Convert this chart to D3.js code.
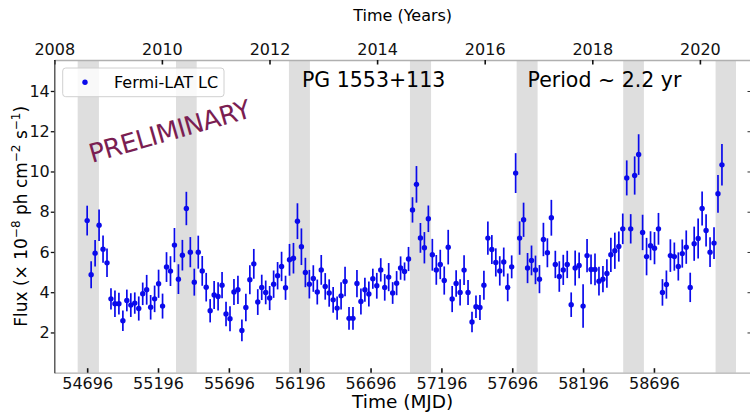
<!DOCTYPE html>
<html>
<head>
<meta charset="utf-8">
<script src="https://cdn.jsdelivr.net/npm/d3@7"></script>
<style>
  body { margin: 0; background: #fff; }
  svg { display: block; font-family: 'DejaVu Sans', sans-serif; }
</style>
</head>
<body>
<svg id="chart" width="750" height="416"></svg>
<script>
// light curve, 28 day bins
const mjd = [
  54696, 54724, 54752, 54780, 54808, 54836, 54864, 54892, 54920, 54948,
  54976, 55004, 55032, 55060, 55088, 55116, 55144, 55172, 55200, 55228,
  55256, 55284, 55312, 55340, 55368, 55396, 55424, 55452, 55480, 55508,
  55536, 55564, 55592, 55620, 55648, 55676, 55704, 55732, 55760, 55788,
  55816, 55844, 55872, 55900, 55928, 55956, 55984, 56012, 56040, 56068,
  56096, 56124, 56152, 56180, 56208, 56236, 56264, 56292, 56320, 56348,
  56376, 56404, 56432, 56460, 56488, 56516, 56544, 56572, 56600, 56628,
  56656, 56684, 56712, 56740, 56768, 56796, 56824, 56852, 56880, 56908,
  56936, 56964, 56992, 57020, 57048, 57076, 57104, 57132, 57160, 57188,
  57216, 57244, 57272, 57300, 57328, 57356, 57384, 57412, 57440, 57468,
  57496, 57524, 57552, 57580, 57608, 57636, 57664, 57692, 57720, 57748,
  57776, 57804, 57832, 57860, 57888, 57916, 57944, 57972, 58000, 58028,
  58056, 58084, 58112, 58140, 58168, 58196, 58224, 58252, 58280, 58308,
  58336, 58364, 58392, 58420, 58448, 58476, 58504, 58532, 58560, 58588,
  58616, 58644, 58672, 58700, 58728, 58756, 58784, 58812, 58840, 58868,
  58896, 58924, 58952, 58980, 59008, 59036, 59064, 59092, 59120, 59148,
  59176
];

const flux = [
  7.56, 4.87, 5.94, 7.33, 6.14, 5.46, 3.67, 3.43, 3.43, 2.58,
  3.59, 3.36, 3.46, 3.19, 3.92, 4.12, 3.25, 3.67, 4.42, 3.31,
  5.25, 5.05, 6.34, 4.65, 5.84, 8.16, 5.99, 4.50, 5.99, 5.06,
  4.25, 3.08, 3.86, 3.79, 4.35, 2.92, 2.68, 4.01, 4.12, 2.10,
  3.24, 4.62, 5.41, 3.51, 4.24, 3.99, 3.71, 4.40, 4.82, 5.28,
  4.22, 5.61, 5.69, 7.53, 6.26, 4.98, 4.40, 4.68, 4.01, 5.11,
  4.29, 3.96, 3.62, 3.21, 3.82, 4.53, 2.70, 2.70, 4.43, 3.54,
  4.12, 3.91, 4.67, 4.32, 5.11, 4.24, 4.75, 3.96, 4.45, 5.20,
  5.03, 5.65, 8.09, 9.36, 6.70, 6.21, 7.65, 5.86, 5.11, 5.38,
  4.58, 6.24, 3.66, 4.43, 3.99, 5.10, 3.99, 2.52, 3.28, 3.24,
  4.35, 6.69, 6.12, 5.48, 5.06, 5.50, 4.24, 5.26, 9.92, 6.69,
  7.60, 5.20, 5.58, 5.11, 4.65, 6.62, 5.96, 7.70, 5.38, 4.78,
  5.11, 5.38, 3.38, 5.20, 5.33, 3.31, 5.82, 5.13, 5.13, 4.55,
  4.65, 4.93, 5.86, 6.06, 6.27, 7.15, 9.68, 7.15, 9.80, 10.84,
  6.97, 5.77, 6.31, 6.19, 7.15, 3.99, 4.38, 5.82, 5.77, 5.28,
  5.92, 6.24, 4.24, 6.41, 6.67, 8.16, 7.07, 5.99, 6.44, 8.89,
  10.33
];

const fluxErr = [
  .74, .67, .66, .78, .68, .71, .53, .66, .54, .51,
  .54, .59, .53, .60, .56, .74, .61, .66, .70, .62,
  .74, .74, .85, .74, .76, .83, .75, .67, .82, .74,
  .71, .58, .70, .70, .65, .61, .62, .65, .70, .54,
  .68, .72, .74, .64, .63, .59, .60, .68, .68, .73,
  .60, .79, .76, .89, .91, .73, .71, .66, .62, .74,
  .66, .68, .64, .58, .68, .73, .56, .56, .68, .65,
  .60, .62, .50, .64, .58, .66, .70, .54, .60, .58,
  .45, .60, .63, .91, .74, .78, .66, .79, .74, .73,
  .70, .86, .65, .66, .65, .74, .62, .51, .56, .62,
  .72, .83, .72, .70, .73, .72, .69, .57, .99, .83,
  .85, .75, .74, .71, .70, .83, .72, .89, .68, .76,
  .75, .68, .61, .87, .64, 1.08, .83, .74, .79, .71,
  .65, .71, .85, .90, .75, .76, .87, .73, .95, 1.01,
  .88, .93, .72, .80, .79, .66, .70, .81, .70, .70,
  .70, .83, .73, .85, .99, .84, .80, .74, .79, .94,
  1.03
];

// shaded flare windows (MJD)
const bandStart = [54629, 55323, 56120, 56974, 57727, 58479, 59131];
const bandEnd = [54779, 55469, 56268, 57123, 57875, 58625, 59275];

const mjdTicks = [54696, 55196, 55696, 56196, 56696, 57196, 57696, 58196, 58696];
const yearTicks = [2008, 2010, 2012, 2014, 2016, 2018, 2020];
const fluxTicks = [2, 4, 6, 8, 10, 12, 14];

const svg = d3.select('#chart');

const plotLeft = 54.3, plotRight = 751, plotTop = 60, plotBottom = 372.7;

const x = d3.scaleLinear().domain([54464, 59381]).range([plotLeft, plotRight]);
const y = d3.scaleLinear().domain([0, 15.54]).range([plotBottom, plotTop]);
const xYear = d3.scaleLinear().domain([2008, 2021]).range([plotLeft, plotLeft + 13 * 53.8]);

// BANDS
svg.append('g')
  .selectAll('rect')
  .data(bandStart)
  .join('rect')
  .attr('x', d => x(d))
  .attr('width', (d, i) => x(bandEnd[i]) - x(d))
  .attr('y', plotTop)
  .attr('height', plotBottom - plotTop)
  .attr('fill', '#dedede');

// AXES
const axisFont = g => g
  .attr('font-family', "'DejaVu Sans', sans-serif")
  .attr('color', '#111');

const bottomAxis = svg.append('g')
  .attr('transform', `translate(0,${plotBottom})`)
  .call(d3.axisBottom(x).tickValues(mjdTicks).tickFormat(d3.format('d'))
    .tickSize(-4.5).tickSizeOuter(0).tickPadding(5))
  .call(axisFont)
  .attr('font-size', 16);
bottomAxis.select('.domain').attr('stroke', '#b0b0b0').attr('stroke-width', 1.3);
bottomAxis.selectAll('.tick line').attr('stroke-width', 1.6);

const topAxis = svg.append('g')
  .attr('transform', `translate(0,${plotTop})`)
  .call(d3.axisTop(xYear).tickValues(yearTicks).tickFormat(d3.format('d'))
    .tickSize(-4.5).tickSizeOuter(0).tickPadding(5))
  .call(axisFont)
  .attr('font-size', 16);
topAxis.select('.domain').attr('stroke', '#b0b0b0').attr('stroke-width', 1.3);
topAxis.selectAll('.tick line').attr('stroke-width', 1.6);

const leftAxis = svg.append('g')
  .attr('transform', `translate(${plotLeft},0)`)
  .call(d3.axisLeft(y).tickValues(fluxTicks).tickSize(3.5).tickSizeOuter(0).tickPadding(1))
  .call(axisFont)
  .attr('font-size', 16);
leftAxis.select('.domain').attr('stroke', '#444').attr('stroke-width', 1.3);
leftAxis.selectAll('.tick line').attr('stroke-width', 1.3);

const rightAxis = svg.append('g')
  .attr('transform', `translate(${plotRight},0)`)
  .call(d3.axisRight(y).tickValues(fluxTicks).tickSize(-3.5).tickSizeOuter(0).tickFormat(''))
  .attr('color', '#333');
rightAxis.select('.domain').attr('stroke', '#b0b0b0');

// POINTS
const pts = svg.append('g').attr('class', 'points');

pts.selectAll('line')
  .data(mjd)
  .join('line')
  .attr('x1', d => x(d))
  .attr('x2', d => x(d))
  .attr('y1', (d, i) => y(flux[i] - fluxErr[i]))
  .attr('y2', (d, i) => y(flux[i] + fluxErr[i]))
  .attr('stroke', '#0a0aeb')
  .attr('stroke-width', 1.7);

pts.selectAll('circle')
  .data(mjd)
  .join('circle')
  .attr('cx', d => x(d))
  .attr('cy', (d, i) => y(flux[i]))
  .attr('r', 2.7)
  .attr('fill', '#0a0aeb');

// LABELS
svg.append('text')
  .attr('x', (plotLeft + plotRight) / 2)
  .attr('y', 21)
  .attr('text-anchor', 'middle')
  .attr('font-size', 16)
  .text('Time (Years)');

svg.append('text')
  .attr('x', (plotLeft + plotRight) / 2)
  .attr('y', 408)
  .attr('text-anchor', 'middle')
  .attr('font-size', 18.5)
  .text('Time (MJD)');

const ylab = svg.append('text')
  .attr('transform', `translate(26.5,${(plotTop + plotBottom) / 2}) rotate(-90)`)
  .attr('text-anchor', 'middle')
  .attr('font-size', 17);
ylab.append('tspan').text('Flux (\u00d7 10');
ylab.append('tspan').attr('dy', -7).attr('font-size', 12).text('\u22128');
ylab.append('tspan').attr('dy', 7).text(' ph cm');
ylab.append('tspan').attr('dy', -7).attr('font-size', 12).text('\u22122');
ylab.append('tspan').attr('dy', 7).text(' s');
ylab.append('tspan').attr('dy', -7).attr('font-size', 12).text('\u22121');
ylab.append('tspan').attr('dy', 7).text(')');

svg.append('text')
  .attr('x', 302)
  .attr('y', 87.3)
  .attr('font-size', 20.5)
  .text('PG 1553+113');

svg.append('text')
  .attr('x', 527.5)
  .attr('y', 87.3)
  .attr('font-size', 20.5)
  .text('Period ~ 2.2 yr');

// watermark
svg.append('text')
  .attr('transform', 'translate(172,140) rotate(-16)')
  .attr('text-anchor', 'middle')
  .attr('font-size', 26)
  .attr('letter-spacing', -0.5)
  .attr('fill', '#7a1e52')
  .text('PRELIMINARY');

// LEGEND
const legend = svg.append('g');
legend.append('rect')
  .attr('x', 62.7)
  .attr('y', 68)
  .attr('width', 161.3)
  .attr('height', 28.7)
  .attr('rx', 3)
  .attr('fill', '#fff')
  .attr('fill-opacity', 0.8)
  .attr('stroke', '#d0d0d0');
legend.append('circle')
  .attr('cx', 85)
  .attr('cy', 82.3)
  .attr('r', 2.7)
  .attr('fill', '#0a0aeb');
legend.append('text')
  .attr('x', 114)
  .attr('y', 87.5)
  .attr('font-size', 16)
  .text('Fermi-LAT LC');
</script>
</body>
</html>
